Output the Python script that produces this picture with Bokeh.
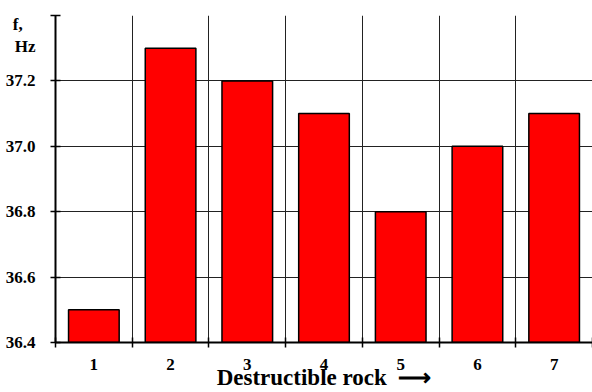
from bokeh.plotting import figure
from bokeh.models import FixedTicker, ColumnDataSource, Range1d
from bokeh.embed import file_html
from bokeh.resources import INLINE

categories = [1, 2, 3, 4, 5, 6, 7]
freq = [36.5, 37.3, 37.2, 37.1, 36.8, 37.0, 37.1]
y_ticks = [36.4, 36.6, 36.8, 37.0, 37.2, 37.4]
y_tick_labels = ["36.4", "36.6", "36.8", "37.0", "37.2", ""]
# caption of the y axis sits in the tick-label column, at the top
y_caption_pos = [37.305, 37.372]
y_caption = ["Hz", "f,\u00a0\u00a0\u00a0"]
x_labels = [str(c) for c in categories]
x_caption = "Destructible rock\u00a0\u00a0\u27f6"

FONT = "Liberation Serif"
W, H = 592, 392
X0, X1, Y0, Y1 = 0.5, 7.5, 36.4, 37.4

p = figure(width=W, height=H, output_backend="svg", toolbar_location=None,
           x_range=Range1d(X0, X1), y_range=Range1d(Y0, Y1),
           min_border_left=55, min_border_right=0, min_border_top=15, min_border_bottom=50)

src = ColumnDataSource(dict(x=categories, top=freq))
p.vbar(x="x", top="top", bottom=Y0, width=0.66, source=src,
       fill_color="#ff0000", line_color="black", line_width=1.5)

# x axis: labels at centres, tick marks at category boundaries
bounds = [c - 0.5 for c in categories] + [categories[-1] + 0.5]
p.xaxis.ticker = FixedTicker(ticks=categories, minor_ticks=bounds)
p.xaxis.major_label_overrides = dict(zip(categories, x_labels))
p.xaxis.major_tick_out = 0
p.xaxis.major_tick_in = 0
p.xaxis.minor_tick_out = 5
p.xaxis.minor_tick_in = 5
p.xaxis.minor_tick_line_color = "black"
p.xaxis.minor_tick_line_width = 1.5
p.xaxis.axis_line_width = 2
p.xaxis.axis_line_color = "black"
p.xaxis.major_label_standoff = 11
p.xaxis.major_label_text_font = FONT
p.xaxis.major_label_text_font_style = "bold"
p.xaxis.major_label_text_font_size = "17px"
p.xaxis.major_label_text_color = "black"
p.xaxis.axis_label = x_caption
p.xaxis.axis_label_text_font = FONT
p.xaxis.axis_label_text_font_style = "bold"
p.xaxis.axis_label_text_font_size = "23px"
p.xaxis.axis_label_text_color = "black"
p.xaxis.axis_label_standoff = -8

# y axis: tick marks as minor ticks, labels (incl. caption) as major ticks
ylab_ticks = y_ticks[:-1] + y_caption_pos
ylab_text = dict(zip(y_ticks, y_tick_labels))
ylab_text.update(dict(zip(y_caption_pos, y_caption)))
p.yaxis.ticker = FixedTicker(ticks=ylab_ticks, minor_ticks=y_ticks)
p.yaxis.major_label_overrides = ylab_text
p.yaxis.major_tick_out = 0
p.yaxis.major_tick_in = 0
p.yaxis.minor_tick_out = 5
p.yaxis.minor_tick_in = 5
p.yaxis.minor_tick_line_width = 1.5
p.yaxis.minor_tick_line_color = "black"
p.yaxis.axis_line_width = 2
p.yaxis.axis_line_color = "black"
p.yaxis.major_label_standoff = 15
p.yaxis.major_label_text_font = FONT
p.yaxis.major_label_text_font_style = "bold"
p.yaxis.major_label_text_font_size = "17px"
p.yaxis.major_label_text_color = "black"

# grids
p.xgrid.ticker = FixedTicker(ticks=bounds[1:])
p.ygrid.ticker = FixedTicker(ticks=y_ticks)
p.xgrid.grid_line_color = "#222222"
p.xgrid.grid_line_width = 1
p.ygrid.grid_line_color = "#222222"
p.ygrid.grid_line_width = 1
p.outline_line_color = None

open("out.html", "w").write(file_html(p, INLINE))
